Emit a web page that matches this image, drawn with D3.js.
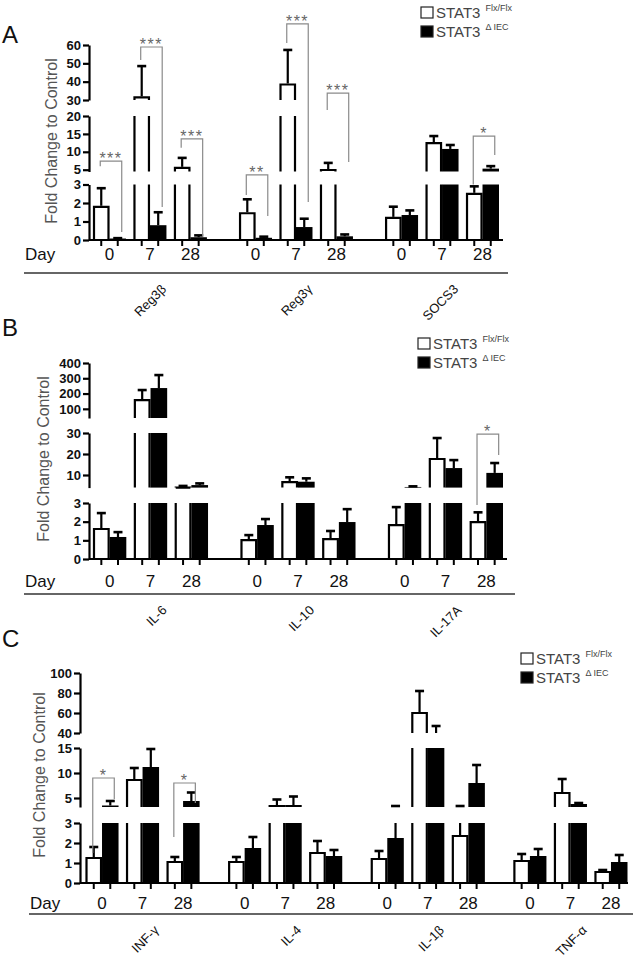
<!DOCTYPE html>
<html><head><meta charset="utf-8">
<script src="https://cdn.jsdelivr.net/npm/d3@7"></script>
<style>body{margin:0;background:#fff}svg{display:block}</style>
</head><body>
<svg id="chart" width="638" height="965"></svg>
<script>
// ---------- DATA ----------
const days = ["0", "7", "28"];
const seriesKeys = ["flx", "iec"];

// Panel A
const groupsA  = ["Reg3β", "Reg3γ", "SOCS3"];
const flxA     = [1.85, 32, 5.8,   1.5, 39, 5.2,    1.25, 12.7, 2.55];
const flxErrA  = [2.8, 48.5, 8.3,  2.2, 57.3, 6.9,  1.8, 14.4, 2.9];
const iecA     = [0.08, 0.8, 0.15, 0.12, 0.7, 0.2,  1.35, 10.8, 5.3];
const iecErrA  = [0.1, 1.5, 0.25,  0.18, 1.15, 0.3, 1.6, 11.9, 6.0];
const segDomA  = [[0, 3], [4.5, 20], [30, 60]];
const segTickA = [[0, 1, 2, 3], [5, 10, 15, 20], [30, 40, 50, 60]];
const sigA = [
  ["Reg3β", "0", 7.4, 6.0, 0.43, "***"],
  ["Reg3β", "7", 58.9, 51.8, 1.78, "***"],
  ["Reg3β", "28", 13.6, 11.1, 0.17, "***"],
  ["Reg3γ", "0", 4.1, 2.43, 1.3, "**"],
  ["Reg3γ", "7", 71.5, 61.1, 2.05, "***"],
  ["Reg3γ", "28", 33.8, 23.75, 7.15, "***"],
  ["SOCS3", "28", 14.4, 3.0, 9.1, "*"]
];

// Panel B
const groupsB  = ["IL-6", "IL-10", "IL-17A"];
const flxB     = [1.66, 164, 4.5,  1.07, 7.1, 1.12,  1.87, 18.1, 2.03];
const flxErrB  = [2.46, 223, 4.8,  1.28, 8.9, 1.5,   2.78, 27.6, 2.5];
const iecB     = [1.18, 236, 5.2,  1.82, 6.8, 1.98,  4.3, 13.3, 11];
const iecErrB  = [1.44, 321, 6.0,  2.14, 8.4, 2.67,  4.6, 17.1, 15.7];
const segDomB  = [[0, 3], [4, 30], [40, 400]];
const segTickB = [[0, 1, 2, 3], [10, 20, 30], [100, 200, 300, 400]];
const sigB = [["IL-17A", "28", 29.5, 2.89, 19.5, "*"]];

// Panel C
const groupsC  = ["INF-γ", "IL-4", "IL-1β", "TNF-α"];
const flxC     = [1.3, 8.8, 1.1,   1.1, 3.6, 1.55,   1.25, 61, 2.4,   1.15, 6.2, 0.6];
const flxErrC  = [1.8, 11, 1.3,    1.3, 4.7, 2.1,    1.6, 82, 3.4,    1.45, 8.8, 0.65];
const iecC     = [3.5, 11.2, 4.4,  1.75, 3.6, 1.35,  2.25, 38, 8,     1.35, 3.8, 1.05];
const iecErrC  = [4.4, 14.8, 6.1,  2.3, 5.3, 1.65,   3.4, 47, 11.6,   1.7, 4.0, 1.4];
const segDomC  = [[0, 3], [3.2, 15], [40, 100]];
const segTickC = [[0, 1, 2, 3], [5, 10, 15], [40, 60, 80, 100]];
const sigC = [
  ["INF-γ", "0", 9, 1.5, 4.8, "*"],
  ["INF-γ", "28", 8, 2.3, 4.0, "*"]
];

const legendLabels = ["STAT3", "STAT3"];
const legendSups = ["Flx/Flx", "Δ IEC"];

// ---------- LAYOUT ----------
const FONT = "'Liberation Sans', Arial, sans-serif";
const svg = d3.select("#chart");

const panels = [
  { letter: "A", letterY: 43, groups: groupsA, flx: flxA, flxErr: flxErrA, iec: iecA, iecErr: iecErrA,
    segDom: segDomA, segTick: segTickA, sig: sigA,
    segPx: [[240, 184.5], [171.5, 116], [100, 45]],
    axisX: 89, axisEnd: 503, barRange: [93, 499], gPad: 0.22,
    dayY: 260, dayX: 25, lineY: 273, lineX: [24, 508], ylab: [52, 141], legend: [421, 7] },
  { letter: "B", letterY: 336, groups: groupsB, flx: flxB, flxErr: flxErrB, iec: iecB, iecErr: iecErrB,
    segDom: segDomB, segTick: segTickB, sig: sigB,
    segPx: [[559, 503], [487.6, 433], [418, 363]],
    axisX: 89, axisEnd: 507, barRange: [93, 503], gPad: 0.22,
    dayY: 587, dayX: 25, lineY: 594, lineX: [24, 515], ylab: [44, 459], legend: [418, 338] },
  { letter: "C", letterY: 647, groups: groupsC, flx: flxC, flxErr: flxErrC, iec: iecC, iecErr: iecErrC,
    segDom: segDomC, segTick: segTickC, sig: sigC,
    segPx: [[883, 823], [807, 748], [733, 673]],
    axisX: 80, axisEnd: 628, barRange: [85.5, 627.5], gPad: 0.2,
    dayY: 909, dayX: 30, lineY: 914, lineX: [29, 633], ylab: [40, 775], legend: [521, 653] }
];

function drawPanel(P) {
  const g = svg.append("g");
  const segs = P.segDom.map((dom, i) => ({
    dom, px: P.segPx[i], sc: d3.scaleLinear().domain(dom).range(P.segPx[i])
  }));
  // value -> y across the broken axis (gaps interpolated)
  const yAny = v => {
    for (let i = 0; i < segs.length; i++) {
      const s = segs[i];
      if (v >= s.dom[0] && v <= s.dom[1]) return s.sc(v);
      if (i < segs.length - 1 && v > s.dom[1] && v < segs[i + 1].dom[0]) {
        const t = (v - s.dom[1]) / (segs[i + 1].dom[0] - s.dom[1]);
        return s.px[1] + t * (segs[i + 1].px[0] - s.px[1]);
      }
    }
    return segs[segs.length - 1].sc(v);
  };

  const xG = d3.scaleBand().domain(P.groups).range(P.barRange).paddingInner(P.gPad).paddingOuter(0);
  const xD = d3.scaleBand().domain(days).range([0, xG.bandwidth()]).paddingInner(0.185);
  const xS = d3.scaleBand().domain(seriesKeys).range([0, xD.bandwidth()]);
  const bw = xS.bandwidth();

  const rows = [];
  P.groups.forEach((gr, gi) => days.forEach((d, di) => {
    const k = gi * 3 + di;
    rows.push({ gr, d, s: "flx", v: P.flx[k], e: P.flxErr[k] });
    rows.push({ gr, d, s: "iec", v: P.iec[k], e: P.iecErr[k] });
  }));
  const bx = r => xG(r.gr) + xD(r.d) + xS(r.s);

  // panel letter
  g.append("text").attr("x", 2).attr("y", P.letterY).text(P.letter)
    .attr("font-family", FONT).attr("font-size", 24).attr("fill", "#111");

  // y label
  g.append("text").attr("transform", `translate(${P.ylab[0] + 5},${P.ylab[1]}) rotate(-90)`)
    .attr("text-anchor", "middle").attr("font-family", FONT).attr("font-size", 16)
    .attr("fill", "#555").text("Fold Change to Control");

  // y axis segments
  segs.forEach((s, i) => {
    const ax = g.append("g").attr("transform", `translate(${P.axisX},0)`)
      .call(d3.axisLeft(s.sc).tickValues(P.segTick[i]).tickFormat(d3.format("d"))
        .tickSize(6).tickSizeOuter(0).tickPadding(2));
    ax.select(".domain").attr("stroke", "#000").attr("stroke-width", 2.2);
    ax.selectAll(".tick line").attr("stroke", "#000").attr("stroke-width", 2.2);
    ax.selectAll(".tick text").attr("font-family", FONT).attr("font-size", 13)
      .attr("font-weight", "bold").attr("fill", "#111");
  });

  // bars
  const order = rows.filter(r => r.s === "flx").concat(rows.filter(r => r.s === "iec"));
  order.forEach(r => segs.forEach(s => {
    const [lo, hi] = s.dom;
    if (r.v <= lo) return;
    const top = Math.min(r.v, hi);
    const y0 = s.sc(lo), y1 = s.sc(top);
    const x0 = bx(r), x1 = x0 + bw;
    if (r.s === "iec") {
      g.append("rect").attr("x", x0).attr("y", y1).attr("width", bw).attr("height", Math.max(0.5, y0 - y1))
        .attr("fill", "#000");
    } else {
      g.append("rect").attr("x", x0).attr("y", y1).attr("width", bw).attr("height", Math.max(0.5, y0 - y1))
        .attr("fill", "#fff");
      const d = r.v <= hi
        ? `M${x0 + 1},${y0}V${y1 + 1}H${x1 - 1}V${y0}`
        : `M${x0 + 1},${y0}V${y1}M${x1 - 1},${y0}V${y1}`;
      g.append("path").attr("d", d).attr("fill", "none").attr("stroke", "#000").attr("stroke-width", 2.2);
    }
  }));

  // error bars (upper only)
  rows.forEach(r => {
    const cx = bx(r) + bw / 2;
    segs.forEach(s => {
      const [lo, hi] = s.dom;
      if (r.e < lo || r.v > hi) return;
      const a = Math.max(r.v, lo), b = Math.min(r.e, hi);
      if (b > a) g.append("line").attr("x1", cx).attr("x2", cx).attr("y1", s.sc(a)).attr("y2", s.sc(b))
        .attr("stroke", "#000").attr("stroke-width", 2.2);
      if (r.e >= lo && r.e <= hi) g.append("line").attr("x1", cx - 4.5).attr("x2", cx + 4.5)
        .attr("y1", s.sc(r.e)).attr("y2", s.sc(r.e)).attr("stroke", "#000").attr("stroke-width", 2.6);
    });
  });

  // x axis baseline + ticks
  const base = P.segPx[0][0];
  g.append("line").attr("x1", P.axisX).attr("x2", P.axisEnd).attr("y1", base).attr("y2", base)
    .attr("stroke", "#000").attr("stroke-width", 2.2);
  rows.forEach(r => {
    const cx = bx(r) + bw / 2;
    g.append("line").attr("x1", cx).attr("x2", cx).attr("y1", base).attr("y2", base + 6)
      .attr("stroke", "#000").attr("stroke-width", 2);
  });

  // day labels
  g.append("text").attr("x", P.dayX).attr("y", P.dayY).text("Day")
    .attr("font-family", FONT).attr("font-size", 17).attr("fill", "#111");
  P.groups.forEach(gr => days.forEach(d => {
    g.append("text").attr("x", xG(gr) + xD(d) + xD.bandwidth() / 2).attr("y", P.dayY)
      .attr("text-anchor", "middle").attr("font-family", FONT).attr("font-size", 17)
      .attr("fill", "#111").text(d);
  }));

  // bottom rule + group labels
  g.append("line").attr("x1", P.lineX[0]).attr("x2", P.lineX[1]).attr("y1", P.lineY).attr("y2", P.lineY)
    .attr("stroke", "#333").attr("stroke-width", 1.3);
  P.groups.forEach(gr => {
    const cx = xG(gr) + xG.bandwidth() / 2;
    g.append("text").attr("transform", `translate(${cx + 17},${P.lineY + 17}) rotate(-45)`)
      .attr("text-anchor", "end").attr("font-family", FONT).attr("font-size", 13)
      .attr("fill", "#111").text(gr);
  });

  // significance brackets
  P.sig.forEach(([gr, d, top, l, r, t]) => {
    const xl = xG(gr) + xD(d) + xS("flx") + bw / 2 - 1;
    const xr = xG(gr) + xD(d) + xS("iec") + bw / 2 + 4;
    const yt = yAny(top);
    g.append("path").attr("d", `M${xl},${yAny(l)}V${yt}H${xr}V${yAny(r)}`)
      .attr("fill", "none").attr("stroke", "#8a8a8a").attr("stroke-width", 1.2);
    g.append("text").attr("x", (xl + xr) / 2).attr("y", yt + 3).attr("text-anchor", "middle")
      .attr("font-family", FONT).attr("font-size", 16).attr("letter-spacing", 1.5)
      .attr("fill", "#666").text(t);
  });

  // legend
  const [lx, ly] = P.legend;
  legendLabels.forEach((lab, i) => {
    const yy = ly + i * 19;
    g.append("rect").attr("x", lx).attr("y", yy).attr("width", 12).attr("height", 11)
      .attr("fill", i === 0 ? "#fff" : "#000").attr("stroke", "#222").attr("stroke-width", 1.2);
    const tx = g.append("text").attr("x", lx + 15).attr("y", yy + 11)
      .attr("font-family", FONT).attr("font-size", 15).attr("fill", "#444");
    tx.append("tspan").text(lab);
    tx.append("tspan").attr("dx", 5).attr("dy", -7).attr("font-size", 9).text(legendSups[i]);
  });
}

panels.forEach(drawPanel);
</script>
</body></html>
